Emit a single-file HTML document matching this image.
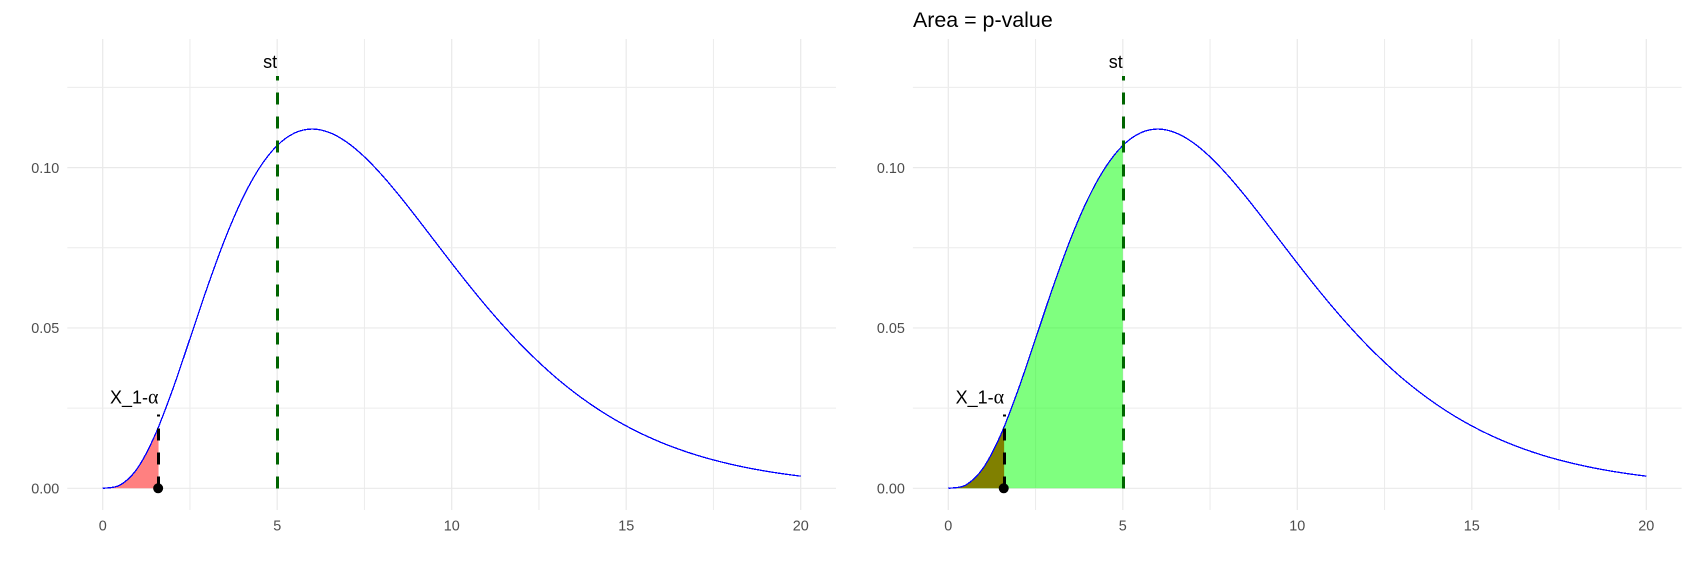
<!DOCTYPE html>
<html lang="en">
<head>
<meta charset="utf-8">
<title>Chi-square p-value chart</title>
<style>
html,body{margin:0;padding:0;background:#fff;width:1691px;height:565px;overflow:hidden}
svg{display:block}
text{font-family:"Liberation Sans",sans-serif}
</style>
</head>
<body>
<svg id="chart" width="1691" height="565" viewBox="0 0 1691 565" xmlns="http://www.w3.org/2000/svg">
<rect x="0" y="0" width="1691" height="565" fill="#ffffff"/>
<text x="913" y="27.2" font-size="21.4" fill="#000000">Area = p-value</text>
</svg>
<script>
// Data
const curveX = [0,0.5,1,1.5,2,2.5,3,3.5,4,4.5,5,5.5,6,6.5,7,7.5,8,8.5,9,9.5,10,10.5,11,11.5,12,12.5,13,13.5,14,14.5,15,15.5,16,16.5,17,17.5,18,18.5,19,19.5,20];
const curveY = [0,0.00101,0.00632,0.01661,0.03066,0.04663,0.06276,0.07761,0.09022,0.10005,0.10688,0.11079,0.11202,0.11092,0.10789,0.10335,0.09768,0.09125,0.08436,0.07727,0.07019,0.06328,0.05666,0.05043,0.04462,0.03929,0.03440,0.03001,0.02607,0.02255,0.01945,0.01671,0.01431,0.01222,0.01040,0.00884,0.00750,0.00634,0.00535,0.00451,0.00378];
const xMajorTicks = [0,5,10,15,20];
const xMinorTicks = [2.5,7.5,12.5,17.5];
const yMajorTicks = [0,0.05,0.10];
const yMinorTicks = [0.025,0.075,0.125];
const yTickLabels = ["0.00","0.05","0.10"];
const statValue = [5];
const statLineTop = [0.1286];
const statLabelY = [0.131];
const critValue = [1.6];
const critLineTop = [0.023];
const critLabelY = [0.0265];

const NS = 'http://www.w3.org/2000/svg';
const root = document.getElementById('chart');

function make(parent, tag, attrs) {
  const el = document.createElementNS(NS, tag);
  for (const k in attrs) el.setAttribute(k, attrs[k]);
  parent.appendChild(el);
  return el;
}

function drawPanel(panelId, x0, showGreen) {
  const sx = v => x0 + v * 34.9;
  const sy = v => 488.3 - v * 3207;
  const left = x0 - 35.4, right = x0 + 733.3, top = 39, bottom = 510;

  const g = make(root, 'g', {});
  
  

  // grid
  xMinorTicks.forEach(t => {
    const el = make(g, 'line', {x1: sx(t), x2: sx(t), y1: top, y2: bottom, stroke: '#ececec', 'stroke-width': 1});
    
    
  });
  xMajorTicks.forEach(t => {
    const el = make(g, 'line', {x1: sx(t), x2: sx(t), y1: top, y2: bottom, stroke: '#e9e9e9', 'stroke-width': 1.2});
    
    
  });
  yMinorTicks.forEach(t => {
    const el = make(g, 'line', {x1: left, x2: right, y1: sy(t), y2: sy(t), stroke: '#ececec', 'stroke-width': 1});
    
    
  });
  yMajorTicks.forEach(t => {
    const el = make(g, 'line', {x1: left, x2: right, y1: sy(t), y2: sy(t), stroke: '#e9e9e9', 'stroke-width': 1.2});
    
    
  });

  // smooth curve through the read points
  const pts = curveX.map((v, i) => [sx(v), sy(curveY[i])]);
  let d = 'M' + pts[0][0] + ' ' + pts[0][1];
  for (let i = 0; i < pts.length - 1; i++) {
    const p0 = pts[Math.max(i - 1, 0)], p1 = pts[i], p2 = pts[i + 1], p3 = pts[Math.min(i + 2, pts.length - 1)];
    d += 'C' + (p1[0] + (p2[0] - p0[0]) / 6) + ' ' + (p1[1] + (p2[1] - p0[1]) / 6) + ' ' +
         (p2[0] - (p3[0] - p1[0]) / 6) + ' ' + (p2[1] - (p3[1] - p1[1]) / 6) + ' ' + p2[0] + ' ' + p2[1];
  }
  const areaD = d + 'L' + sx(curveX[curveX.length - 1]) + ' ' + sy(0) + 'L' + sx(curveX[0]) + ' ' + sy(0) + 'Z';

  const defs = make(g, 'defs', {});
  const clipCrit = make(defs, 'clipPath', {id: panelId + '-clip-crit'});
  make(clipCrit, 'rect', {x: sx(0), y: top, width: sx(critValue[0]) - sx(0), height: bottom - top});
  const clipStat = make(defs, 'clipPath', {id: panelId + '-clip-stat'});
  make(clipStat, 'rect', {x: sx(0), y: top, width: sx(statValue[0]) - sx(0), height: bottom - top});

  if (showGreen) {
    const green = make(g, 'path', {d: areaD, fill: '#00ff00', 'fill-opacity': 0.5, 'clip-path': 'url(#' + panelId + '-clip-stat)'});
    
    
  }
  const crit = make(g, 'path', {d: areaD, fill: showGreen ? '#808000' : '#ff8080', 'clip-path': 'url(#' + panelId + '-clip-crit)'});
  
  

  const curve = make(g, 'path', {d: d, fill: 'none', stroke: '#0000ff', 'stroke-width': 1.3, 'shape-rendering': 'crispEdges'});
  
  

  // statistic line
  const stX = Math.round(sx(statValue[0])) + 0.5;
  const stLine = make(g, 'line', {x1: stX, x2: stX, y1: sy(0), y2: sy(statLineTop[0]), stroke: '#006400', 'stroke-width': 3, 'stroke-dasharray': '12 12', 'shape-rendering': 'crispEdges'});
  
  

  // critical line
  const crX = Math.floor(sx(critValue[0])) + 0.5;
  const crLine = make(g, 'line', {x1: crX, x2: crX, y1: sy(0), y2: sy(critLineTop[0]), stroke: '#000000', 'stroke-width': 3, 'stroke-dasharray': '12 12', 'shape-rendering': 'crispEdges'});
  
  

  const dot = make(g, 'circle', {cx: sx(critValue[0]) - 0.4, cy: sy(0), r: 5, fill: '#000000'});
  
  

  // labels
  const stLabel = make(g, 'text', {x: sx(statValue[0]), y: sy(statLabelY[0]), 'text-anchor': 'end', 'font-size': 18, fill: '#000000'});
  stLabel.textContent = 'st';
  
  

  const crLabel = make(g, 'text', {x: sx(critValue[0]), y: sy(critLabelY[0]), 'text-anchor': 'end', 'font-size': 18, fill: '#000000'});
  
  
  crLabel.appendChild(document.createTextNode('X_1-'));
  const alpha = make(crLabel, 'tspan', {'font-family': '"Liberation Serif", serif', 'font-size': 20});
  alpha.textContent = 'α';

  // axis tick labels
  yMajorTicks.forEach((t, i) => {
    const el = make(g, 'text', {x: left - 8, y: sy(t) + 5.2, 'text-anchor': 'end', 'font-size': 14.4, fill: '#4d4d4d'});
    el.textContent = yTickLabels[i];
    
    
  });
  xMajorTicks.forEach(t => {
    const el = make(g, 'text', {x: sx(t), y: 530.5, 'text-anchor': 'middle', 'font-size': 14.4, fill: '#4d4d4d'});
    el.textContent = String(t);
    
    
  });
}

drawPanel('left', 102.7, false);
drawPanel('right', 948.3, true);
</script>
</body>
</html>
